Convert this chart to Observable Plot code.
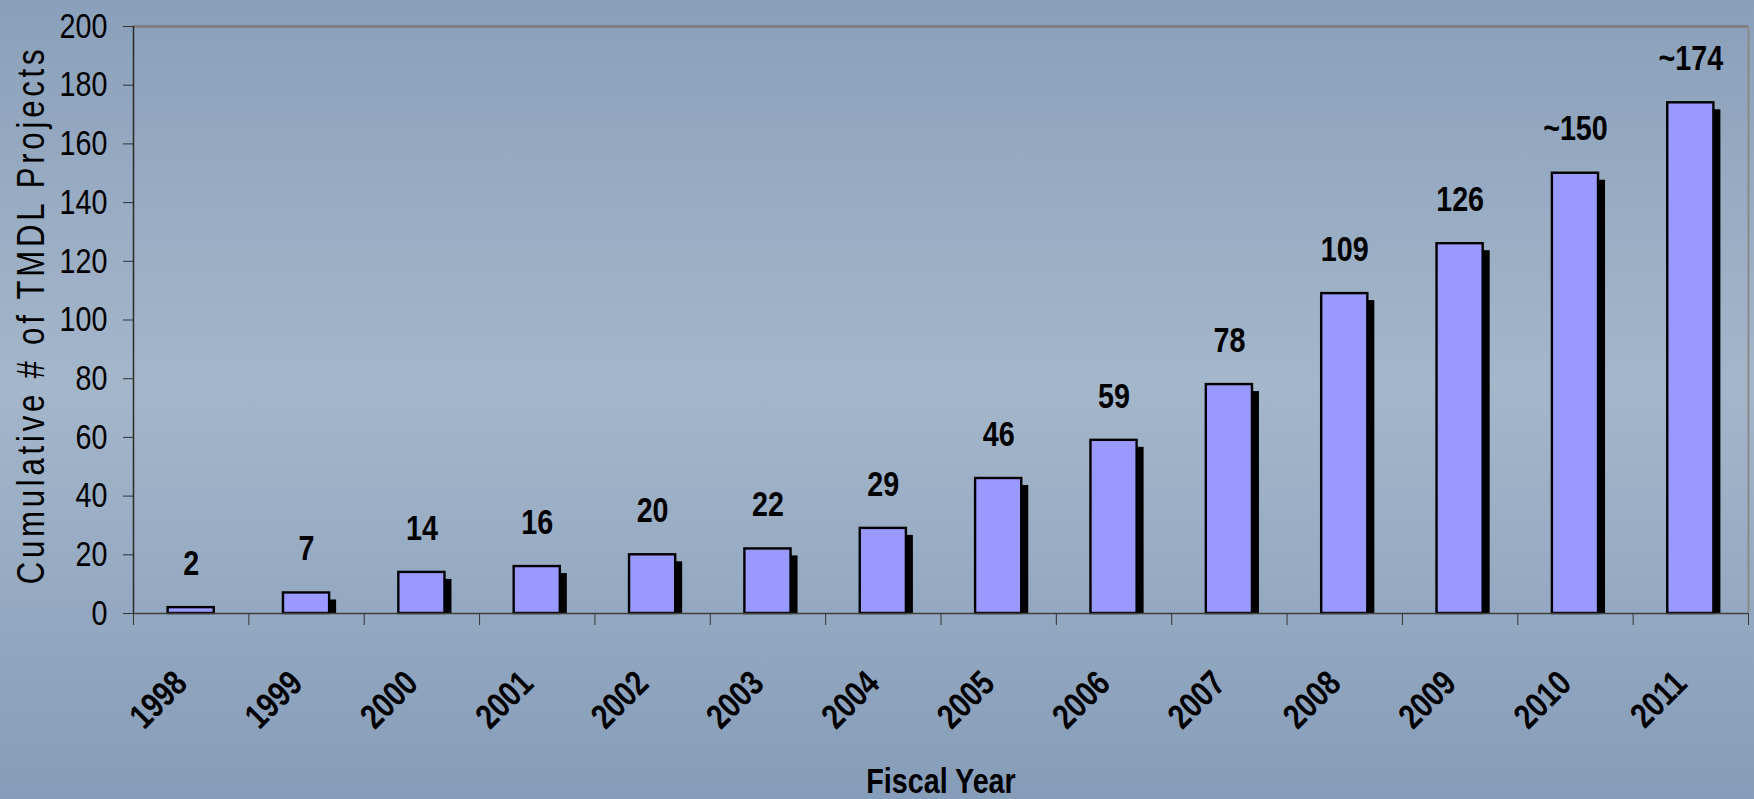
<!DOCTYPE html>
<html>
<head>
<meta charset="utf-8">
<script src="https://cdn.jsdelivr.net/npm/d3@7"></script>
<script src="https://cdn.jsdelivr.net/npm/@observablehq/plot@0.6"></script>
<style>
  html, body { margin: 0; padding: 0; }
  body { width: 1754px; height: 799px; overflow: hidden;
    background: linear-gradient(to bottom, #8aa0ba 0%, #a4b6ca 48%, #869db9 100%); }
</style>
</head>
<body>
<div id="chart"></div>
<script>
const years = [1998, 1999, 2000, 2001, 2002, 2003, 2004, 2005, 2006, 2007, 2008, 2009, 2010, 2011];
const projects = [2, 7, 14, 16, 20, 22, 29, 46, 59, 78, 109, 126, 150, 174];
const valueLabels = ["2", "7", "14", "16", "20", "22", "29", "46", "59", "78", "109", "126", "~150", "~174"];
const yTicks = [0, 20, 40, 60, 80, 100, 120, 140, 160, 180, 200];
const yLabel = "Cumulative # of TMDL Projects";
const xLabel = "Fiscal Year";

const data = years.map((year, i) => ({year, value: projects[i], label: valueLabels[i]}));
const boundaries = years.map(y => y - 0.5).concat([years[years.length - 1] + 0.5]);

const font = "'Liberation Sans', Arial, sans-serif";
const condense = 0.82;

const chart = Plot.plot({
  width: 1754,
  height: 799,
  marginLeft: 133,
  marginRight: 6,
  marginTop: 26,
  marginBottom: 186,
  style: {background: "transparent", fontFamily: font, overflow: "visible"},
  x: {type: "linear", domain: [boundaries[0], boundaries[boundaries.length - 1]]},
  y: {domain: [0, 200]},
  marks: [
    Plot.ruleY([200], {stroke: "#7f7f7f", strokeWidth: 3}),
    Plot.ruleX([boundaries[boundaries.length - 1]], {stroke: "#8a8a8a", strokeWidth: 2}),
    Plot.rectY(data, {x1: d => d.year - 0.2, x2: d => d.year + 0.2, y: "value", fill: "black", dx: 7, insetTop: 7}),
    Plot.rectY(data, {x1: d => d.year - 0.2, x2: d => d.year + 0.2, y: "value", fill: "#9999ff", stroke: "black", strokeWidth: 2.4}),
    Plot.ruleX([boundaries[0]], {stroke: "#2a2a2a", strokeWidth: 1.5}),
    Plot.ruleY([0], {stroke: "#404040", strokeWidth: 1.5}),
    Plot.axisY({ticks: yTicks, tickSize: 10, tickPadding: 16, fontSize: 35, stroke: "#333", fill: "black", label: null}),
    Plot.axisX({ticks: boundaries, tickSize: 12, tickFormat: () => "", stroke: "#333", label: null}),
    Plot.text(data, {x: "year", text: d => String(d.year), frameAnchor: "bottom", rotate: -45, textAnchor: "end", lineAnchor: "middle", dx: -10, dy: 64, fontSize: 35, fontWeight: "bold", fill: "black"}),
    Plot.text(data, {x: "year", y: "value", text: "label", lineAnchor: "middle", dy: -44, fontSize: 35, fontWeight: "bold", fill: "black"}),
    Plot.text([xLabel], {frameAnchor: "bottom", text: d => d, textAnchor: "middle", lineAnchor: "middle", dy: 168, fontSize: 35, fontWeight: "bold", fill: "black"}),
    Plot.text([yLabel], {frameAnchor: "left", text: d => d, rotate: -90, textAnchor: "middle", lineAnchor: "middle", dx: -102, dy: -5, fontSize: 38, fill: "black"})
  ]
});

// Arial-Narrow look: condense every text horizontally (along its own direction)
chart.querySelectorAll("text").forEach(t => {
  const xAttr = t.getAttribute("x");
  if (xAttr != null && !isNaN(+xAttr)) t.setAttribute("x", +xAttr / condense);
  const tr = t.getAttribute("transform") || "";
  t.setAttribute("transform", `${tr} scale(${condense},1)`);
  if (t.textContent === yLabel) t.setAttribute("letter-spacing", 4.6);
});

document.getElementById("chart").appendChild(chart);
</script>
</body>
</html>
